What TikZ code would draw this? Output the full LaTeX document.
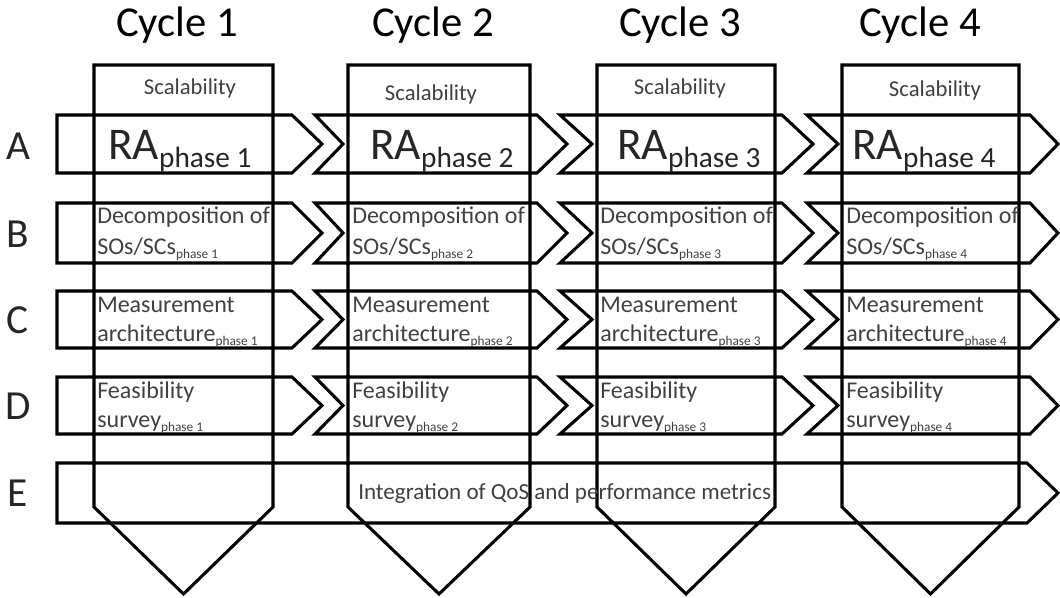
\documentclass[tikz,border=0pt]{standalone}
\usepackage{fontspec}
\setmainfont{Carlito}
\begin{document}
\begin{tikzpicture}[x=0.75pt,y=-0.75pt,
  outline/.style={draw=black,line width=2.3pt,line join=miter},
  title/.style={inner sep=0pt,anchor=base,text=black,font=\fontsize{32}{32}\selectfont},
  rowletter/.style={inner sep=0pt,anchor=center,text=black!85,font=\fontsize{31}{31}\selectfont},
  celltext/.style={inner sep=0pt,anchor=base west,text=black!75,font=\fontsize{18}{18}\selectfont},
  scaltext/.style={inner sep=0pt,anchor=base,text=black!75,font=\fontsize{17}{17}\selectfont},
  ratext/.style={inner sep=0pt,anchor=base west,text=black!85,font=\fontsize{34}{34}\selectfont}]
\useasboundingbox (0,0) rectangle (1060,598);

% small and large "phase" subscripts
\newcommand{\smallphase}[1]{\raisebox{-3pt}{\fontsize{10}{10}\selectfont phase #1}}
\newcommand{\bigphase}[1]{\raisebox{-6pt}{\fontsize{22}{22}\selectfont phase #1}}

% cycle columns (pentagon arrows pointing down)
\foreach \l/\r in {94/273,348/530,597/775,842/1019}{
  \draw[outline] (\l,65) -- (\r,65) -- (\r,507) -- ({(\l+\r)/2},594) -- (\l,507) -- cycle;
}

% rows A-D: one arrow followed by three chevrons
\foreach \t/\b in {115/173,203/263,291/348,377/434}{
  \pgfmathsetmacro{\m}{(\t+\b)/2}
  \draw[outline] (57,\t) -- (292,\t) -- (322,\m) -- (292,\b) -- (57,\b) -- cycle;
  \foreach \L/\N/\S/\T in {315/343/537/567,560/592/782/813,807/838/1030/1058}{
    \draw[outline] (\L,\t) -- (\S,\t) -- (\T,\m) -- (\S,\b) -- (\L,\b) -- (\N,\m) -- cycle;
  }
}

% row E: one long arrow
\draw[outline] (57,463) -- (1027,463) -- (1058,493) -- (1027,523) -- (57,523) -- cycle;

% cycle titles
\node[title] (cyc1) at (177,37) {Cycle 1};
\node[title] (cyc2) at (433,37) {Cycle 2};
\node[title] (cyc3) at (680,37) {Cycle 3};
\node[title] (cyc4) at (920,37) {Cycle 4};

% row letters
\node[rowletter] (rowA) at (18,146) {A};
\node[rowletter] (rowB) at (18,234) {B};
\node[rowletter] (rowC) at (18,320) {C};
\node[rowletter] (rowD) at (18,406) {D};
\node[rowletter] (rowE) at (18,493) {E};

% scalability headers
\node[scaltext] (scal1) at (190,95) {Scalability};
\node[scaltext] (scal2) at (431,101) {Scalability};
\node[scaltext] (scal3) at (680,95) {Scalability};
\node[scaltext] (scal4) at (935,97) {Scalability};

% row A
\node[ratext] (ra1) at (108,160) {RA\bigphase{1}};
\node[ratext] (ra2) at (370,160) {RA\bigphase{2}};
\node[ratext] (ra3) at (617,160) {RA\bigphase{3}};
\node[ratext] (ra4) at (852,160) {RA\bigphase{4}};

% rows B-D
\foreach \x/\n in {97/1,352/2,600/3,846/4}{
  \node[celltext] (decA\n) at (\x,224) {Decomposition of};
  \node[celltext] (decB\n) at (\x,255) {SOs/SCs\smallphase{\n}};
  \node[celltext] (meaA\n) at (\x,313) {Measurement};
  \node[celltext] (meaB\n) at (\x,342) {architecture\smallphase{\n}};
  \node[celltext] (feaA\n) at (\x,399) {Feasibility};
  \node[celltext] (feaB\n) at (\x,427) {survey\smallphase{\n}};
}

% row E
\node[celltext,font=\fontsize{17.3}{17.3}\selectfont] (integ) at (358,499) {Integration of QoS and performance metrics};
\end{tikzpicture}
\end{document}
